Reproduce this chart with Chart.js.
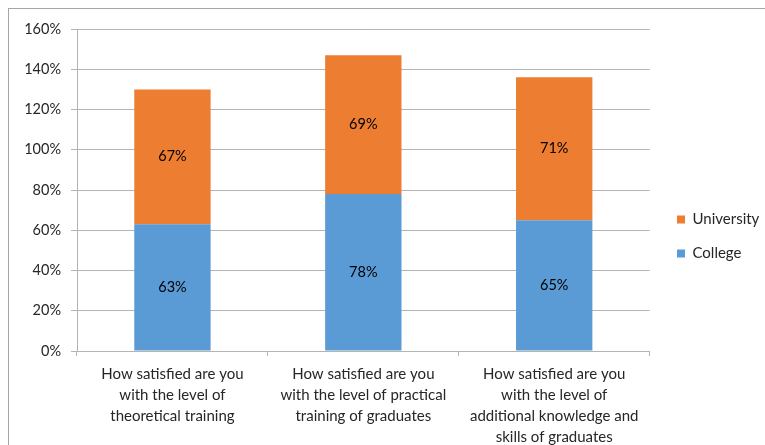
<!DOCTYPE html>
<html>
<head>
<meta charset="utf-8">
<script src="https://cdn.jsdelivr.net/npm/chart.js@4/dist/chart.umd.min.js"></script>
<style>
  html, body { margin: 0; padding: 0; background: #fff; overflow: hidden; }
  #wrap { position: relative; width: 765px; height: 445px; }
</style>
</head>
<body>
<div id="wrap"><canvas id="chart" width="765" height="445"></canvas></div>
<script>
const categories = [
  ["How satisfied are you", "with the level of", "theoretical training"],
  ["How satisfied are you", "with the level of practical", "training of graduates"],
  ["How satisfied are you", "with the level of", "additional knowledge and", "skills of graduates"]
]
const college = [63, 78, 65]
const university = [67, 69, 71]
const seriesNames = ["College", "University"]

const gridColor = '#b4b4b4'
const textColor = '#262626'
const fontFamily = "Lato, 'Open Sans', sans-serif"

// outer frame like the office chart border
const frame = {
  id: 'frame',
  beforeDraw(chart) {
    const ctx = chart.ctx
    ctx.save()
    ctx.strokeStyle = '#a6a6a6'
    ctx.lineWidth = 1
    ctx.strokeRect(8.5, 8.5, 800, 500)
    ctx.restore()
  }
}

// values centered in each segment
const segLabels = {
  id: 'segLabels',
  afterDatasetsDraw(chart) {
    const ctx = chart.ctx
    ctx.save()
    ctx.font = "14.5px " + fontFamily
    ctx.fillStyle = '#000'
    ctx.textAlign = 'center'
    ctx.textBaseline = 'middle'
    chart.data.datasets.forEach((ds, i) => {
      chart.getDatasetMeta(i).data.forEach((bar, j) => {
        ctx.fillText(ds.data[j] + '%', bar.x, (bar.y + bar.base) / 2)
      })
    })
    ctx.restore()
  }
}

// move legend next to the plot like in the original
const legendPos = {
  id: 'legendPos',
  afterLayout(chart) {
    const lg = chart.legend
    const dx = 658 - lg.left
    lg.left += dx; lg.right += dx
    const dy = 193 - lg.top
    lg.top += dy; lg.bottom += dy
  }
}

new Chart(document.getElementById('chart'), {
  type: 'bar',
  data: {
    labels: categories,
    datasets: [
      {label: seriesNames[0], data: college, backgroundColor: '#5b9bd5'},
      {label: seriesNames[1], data: university, backgroundColor: '#ed7d31'}
    ]
  },
  options: {
    responsive: false,
    animation: false,
    events: [],
    layout: {padding: {left: 0, top: 29, right: 4, bottom: 0}},
    datasets: {bar: {categoryPercentage: 1, barPercentage: 0.4}},
    scales: {
      x: {
        stacked: true,
        grid: {offset: true, drawOnChartArea: false, drawTicks: true, tickLength: 5, color: gridColor},
        border: {color: gridColor},
        ticks: {color: textColor, font: {family: fontFamily, size: 15, lineHeight: 1.4}, padding: 8, maxRotation: 0, autoSkip: false},
        afterFit(scale) { scale.height = 94 }
      },
      y: {
        stacked: true,
        min: 0,
        max: 160,
        grid: {color: gridColor, tickLength: 6},
        border: {color: gridColor},
        ticks: {stepSize: 20, color: textColor, font: {family: fontFamily, size: 14.5}, padding: 10,
          callback: v => v + '%'},
        afterFit(scale) { scale.width = 77 }
      }
    },
    plugins: {
      tooltip: {enabled: false},
      legend: {
        position: 'right',
        align: 'start',
        reverse: true,
        labels: {
          boxWidth: 8,
          boxHeight: 8,
          padding: 19,
          color: textColor,
          font: {family: fontFamily, size: 15}
        }
      }
    }
  },
  plugins: [frame, segLabels, legendPos]
})
</script>
</body>
</html>
